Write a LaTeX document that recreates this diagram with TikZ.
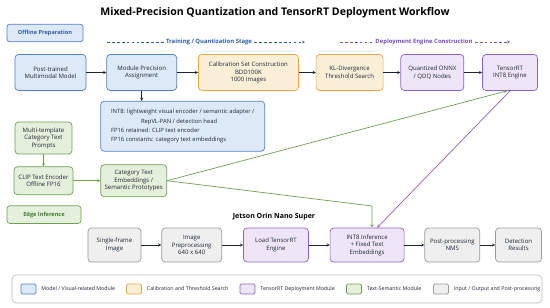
\documentclass[tikz,border=0pt]{standalone}
\usepackage{fontspec}
\setmainfont{Open Sans}
\usetikzlibrary{shapes.geometric, arrows, positioning}
\definecolor{blueF}{HTML}{DEE9F8}
\definecolor{blueD}{HTML}{5382C6}
\definecolor{blueT}{HTML}{2F5EA8}
\definecolor{orangeF}{HTML}{FCEFD7}
\definecolor{orangeD}{HTML}{E2A94E}
\definecolor{purpleF}{HTML}{EEE6F8}
\definecolor{purpleD}{HTML}{8C63C9}
\definecolor{purpleT}{HTML}{7A4FBF}
\definecolor{greenF}{HTML}{E4F0DB}
\definecolor{greenD}{HTML}{6FA053}
\definecolor{greenT}{HTML}{3F7D2F}
\definecolor{grayF}{HTML}{EFEFEF}
\definecolor{grayD}{HTML}{9C9C9C}
\definecolor{txt}{HTML}{1E2635}
\tikzstyle{box} = [
    rectangle,
    rounded corners=5pt,
    minimum height=1.8cm,
    line width=1pt,
    align=center,
    text=txt,
    inner sep=2pt,
    font=\fontsize{8.6}{10.6}\selectfont
]
\tikzstyle{bluebox} = [box, draw=blueD, fill=blueF]
\tikzstyle{orangebox} = [box, draw=orangeD, fill=orangeF]
\tikzstyle{purplebox} = [box, draw=purpleD, fill=purpleF]
\tikzstyle{greenbox} = [box, draw=greenD, fill=greenF]
\tikzstyle{graybox} = [box, draw=grayD, fill=grayF, minimum height=1.7cm]
\tikzstyle{tagbox} = [
    rectangle,
    rounded corners=4pt,
    minimum height=0.88cm,
    line width=1pt,
    font=\fontsize{8}{10}\selectfont\bfseries
]
\tikzstyle{stagelabel} = [font=\fontsize{8.4}{10}\selectfont\bfseries, inner sep=3pt]
\tikzstyle{stageline} = [line width=0.9pt, dash pattern=on 4pt off 3pt, >=stealth]
\tikzstyle{arrow} = [line width=1pt,->,>=stealth, draw=txt]
\tikzstyle{greenarrow} = [line width=1pt,->,>=stealth, draw=greenD]
\tikzstyle{purplearrow} = [line width=1pt,->,>=stealth, draw=purpleD]
\tikzstyle{swatch} = [
    rectangle,
    rounded corners=2pt,
    minimum width=0.75cm,
    minimum height=0.5cm,
    line width=0.9pt
]
\tikzstyle{legendtext} = [anchor=west, font=\fontsize{7.5}{9}\selectfont, text=txt, inner sep=0pt]

\begin{document}
\begin{tikzpicture}[node distance=1cm]

\useasboundingbox (0,0) rectangle (27.5,-15.35);
\fill [white] (0,0) rectangle (27.5,-15.35);

\node (title) at (13.75,-0.62)
{\fontsize{15}{18}\selectfont\bfseries Mixed-Precision Quantization and TensorRT Deployment Workflow};

\node (offline) [tagbox, draw=blueD, fill=blueF, text=blueT, minimum width=3.8cm] at (2.25,-1.65)
{Offline Preparation};

% Stage labels
\node (trainlbl) [stagelabel, text=blueT] at (10.45,-2.1) {Training / Quantization Stage};
\node (deploylbl) [stagelabel, text=purpleT] at (21.2,-2.1) {Deployment Engine Construction};
\coordinate (trainA) at (5.35,-2.1);
\coordinate (trainB) at (15.25,-2.1);
\coordinate (deployA) at (17.0,-2.1);
\coordinate (deployB) at (25.5,-2.1);
\draw [stageline, draw=blueT] (trainA) -- (trainlbl.west);
\draw [stageline, draw=blueT, ->] (trainlbl.east) -- (trainB);
\draw [stageline, draw=purpleT] (deployA) -- (deploylbl.west);
\draw [stageline, draw=purpleT, ->] (deploylbl.east) -- (deployB);

% Top row
\node (posttrained) [bluebox, minimum width=3.55cm] at (2.525,-3.625)
{Post-trained\\
Multimodal Model};

\node (modprec) [bluebox, minimum width=3.5cm, right=1cm of posttrained]
{Module Precision\\
Assignment};

\node (calib) [orangebox, minimum width=5cm, right=1.05cm of modprec]
{Calibration Set Construction\\
BDD100K\\
1000 Images};

\node (kldiv) [orangebox, minimum width=3.35cm, right=0.85cm of calib]
{KL-Divergence\\
Threshold Search};

\node (onnx) [purplebox, minimum width=3.15cm, right=0.85cm of kldiv]
{Quantized ONNX\\
/ QDQ Nodes};

\node (trt) [purplebox, minimum width=2.75cm, right=0.9cm of onnx]
{TensorRT\\
INT8 Engine};

\node (precinfo) [bluebox, minimum width=8.2cm, minimum height=2.5cm, align=left,
    font=\fontsize{8.3}{13.3}\selectfont,
    below=0.5cm of modprec.south west, anchor=north west, xshift=-0.3cm]
{INT8: lightweight visual encoder / semantic adapter /\\
\hspace*{1.5cm}RepVL-PAN / detection head\\
FP16 retained: CLIP text encoder\\
FP16 constants: category text embeddings};

% Text branch
\node (prompts) [greenbox, minimum width=2.85cm, minimum height=1.6cm] at (2.175,-6.9)
{Multi-template\\
Category Text\\
Prompts};

\node (clipenc) [greenbox, minimum width=2.95cm, minimum height=1.4cm, below=0.6cm of prompts]
{CLIP Text Encoder\\
Offline FP16};

\node (catemb) [greenbox, minimum width=3.3cm, minimum height=1.6cm, right=1.35cm of clipenc]
{Category Text\\
Embeddings /\\
Semantic Prototypes};

\node (edge) [tagbox, draw=greenD, fill=greenF, text=greenT, minimum width=3.7cm] at (2.2,-10.73)
{Edge Inference};

\node (jetson) at (13.7,-10.82) {\fontsize{10}{12}\selectfont\bfseries Jetson Orin Nano Super};

% Bottom row
\node (single) [graybox, minimum width=2.65cm] at (5.725,-12.25)
{Single-frame\\
Image};

\node (preproc) [graybox, minimum width=3cm, right=1cm of single]
{Image\\
Preprocessing\\
640 x 640};

\node (loadtrt) [purplebox, minimum height=1.7cm, minimum width=3.25cm, right=1.05cm of preproc]
{Load TensorRT\\
Engine};

\node (infer) [purplebox, minimum height=1.7cm, minimum width=3.7cm, right=1.05cm of loadtrt]
{INT8 Inference\\
+ Fixed Text\\
Embeddings};

\node (postproc) [graybox, minimum width=2.75cm, right=1cm of infer]
{Post-processing\\
NMS};

\node (detect) [graybox, minimum width=2.3cm, right=0.75cm of postproc]
{Detection\\
Results};

% Legend
\node (legend) [rectangle, rounded corners=6pt, draw=grayD!70, line width=0.9pt,
    minimum width=26.5cm, minimum height=1.4cm] at (13.85,-14.45) {};
\foreach \x/\c/\t in {1.425/blue/{Model / Visual-related Module},
                      6.7/orange/{Calibration and Threshold Search},
                      12.375/purple/{TensorRT Deployment Module},
                      17.7/green/{Text-Semantic Module},
                      22.05/gray/{Input / Output and Post-processing}} {
    \node (sw\c) [swatch, draw=\c D, fill=\c F] at (\x,-14.45) {};
    \node (lg\c) [legendtext, right=0.25cm of sw\c.east, anchor=west] {\t};
}

% Arrows
\draw [arrow] (posttrained) -- (modprec);
\draw [arrow] (modprec) -- (calib);
\draw [arrow] (calib) -- (kldiv);
\draw [arrow] (kldiv) -- (onnx);
\draw [arrow] (onnx) -- (trt);
\draw [arrow] (modprec) -- (modprec |- precinfo.north);

\draw [greenarrow] (prompts) -- (clipenc);
\draw [greenarrow] (clipenc) -- (catemb);
\draw [greenarrow] (catemb.east) -- ([xshift=-0.15cm]trt.south);
\coordinate (greenbend) at (18.6,-10.3);
\draw [greenarrow] (catemb.east) -- (greenbend) -- (greenbend |- infer.north);
\draw [purplearrow] (trt.south) -- ([xshift=0.5cm]infer.north);

\draw [arrow] (single) -- (preproc);
\draw [arrow] (preproc) -- (loadtrt);
\draw [arrow] (loadtrt) -- (infer);
\draw [arrow] (infer) -- (postproc);
\draw [arrow] (postproc) -- (detect);

\end{tikzpicture}
\end{document}
